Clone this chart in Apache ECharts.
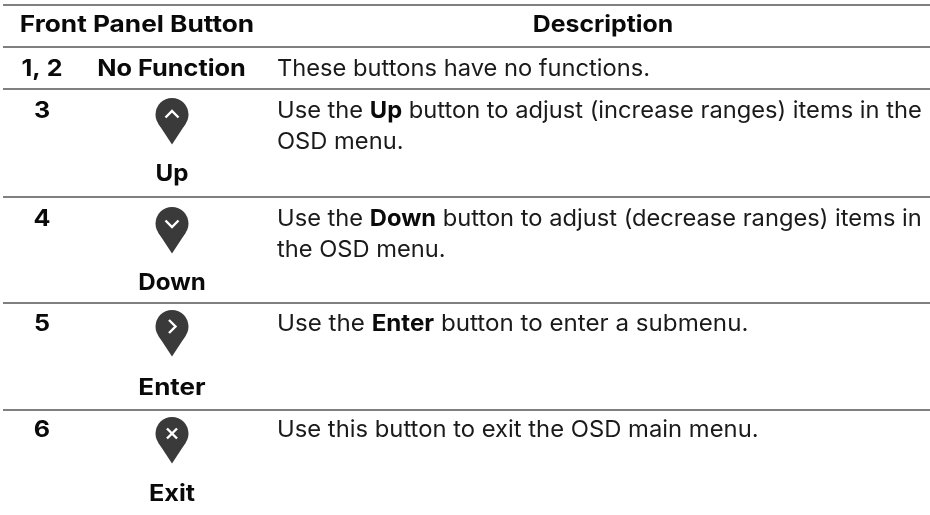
<!DOCTYPE html>
<html>
<head>
<meta charset="utf-8">
<style>html,body{margin:0;padding:0;background:#fff}#main{width:930px;height:515px}</style>
<script src="https://cdn.jsdelivr.net/npm/echarts@6/dist/echarts.min.js"></script>
</head>
<body>
<div id="main"></div>
<script>
var headers = ['Front Panel Button', 'Description'];
var rowNumbers = ['1, 2', '3', '4', '5', '6'];
var buttonNames = ['No Function', 'Up', 'Down', 'Enter', 'Exit'];
var icons = [null, 'up', 'down', 'right', 'close'];
var descriptions = [
	['These buttons have no functions.'],
	['Use the {b|Up} button to adjust (increase ranges) items in the', 'OSD menu.'],
	['Use the {b|Down} button to adjust (decrease ranges) items in', 'the OSD menu.'],
	['Use the {b|Enter} button to enter a submenu.'],
	['Use this button to exit the OSD main menu.']
];

// layout
var ruleY = [5, 47, 89, 197, 303, 410];
var rowTextY = [69.5, 111.5, 219.5, 324.5, 430.5];
var iconTop = [0, 98, 207, 310, 417];
var labelY = [0, 174.5, 283, 388, 494];
var headerScale = [1.14, 1.08];
var labelScale = [1.1, 1.05, 1.05, 1.13, 1.1];
var descScale = [1.03, 1.03, 1.03, 1.05, 1.035];

var myChart = echarts.init(document.getElementById('main'));
var fontName = 'Inter';
var textColor = '#1a1a1a';
var boldColor = '#0a0a0a';
var lineHeight = 31;

function boldText(str, x, y, sx) {
	return {
		type: 'text',
		x: x,
		y: y,
		scaleX: sx,
		style: {text: str, fill: boldColor, font: '700 23px ' + fontName, textAlign: 'center', textVerticalAlign: 'middle'}
	};
}

function pin(cx, top, kind) {
	var r = 16.5, h = 46.5;
	var cy = top + r;
	var marks = {
		up: [[[-6.5, 3], [0, -3.5], [6.5, 3]]],
		down: [[[-6.5, -3], [0, 3.5], [6.5, -3]]],
		right: [[[-3, -6.5], [3.5, 0], [-3, 6.5]]],
		close: [[[-5, -5], [5, 5]], [[5, -5], [-5, 5]]]
	};
	var out = [{
		type: 'circle',
		shape: {cx: cx, cy: cy, r: r},
		style: {fill: '#3a3a3a'}
	}, {
		type: 'polygon',
		shape: {points: [[cx - 13.8, cy + 9], [cx + 13.8, cy + 9], [cx, top + h]]},
		style: {fill: '#3a3a3a'}
	}];
	marks[kind].forEach(function (m) {
		out.push({
			type: 'polyline',
			shape: {points: m.map(function (p) { return [cx + p[0], cy + p[1]]; })},
			style: {stroke: '#fff', lineWidth: 2.4, fill: null}
		});
	});
	return out;
}

var elements = [];

ruleY.forEach(function (y) {
	elements.push({
		type: 'line',
		shape: {x1: 3, y1: y, x2: 930, y2: y},
		style: {stroke: '#808080', lineWidth: 2}
	});
});

elements.push(boldText(headers[0], 137, 25.5, headerScale[0]));
elements.push(boldText(headers[1], 603, 25.5, headerScale[1]));

rowNumbers.forEach(function (num, i) {
	var textY = rowTextY[i];
	elements.push(boldText(num, 42, textY, 1.09));
	if (icons[i]) {
		elements = elements.concat(pin(172, iconTop[i], icons[i]));
		elements.push(boldText(buttonNames[i], 172, labelY[i], labelScale[i]));
	} else {
		elements.push(boldText(buttonNames[i], 171.5, textY, labelScale[i]));
	}
	descriptions[i].forEach(function (line, k) {
		elements.push({
			type: 'text',
			x: 277,
			y: textY + k * lineHeight,
			scaleX: descScale[i],
			style: {
				text: line,
				fill: textColor,
				font: '400 23px ' + fontName,
				textAlign: 'left',
				textVerticalAlign: 'middle',
				rich: {b: {font: '700 23px ' + fontName, fill: boldColor}}
			}
		});
	});
});

var option = {
	animation: false,
	backgroundColor: '#fff',
	graphic: {elements: elements}
};

option && myChart.setOption(option);
</script>
</body>
</html>
